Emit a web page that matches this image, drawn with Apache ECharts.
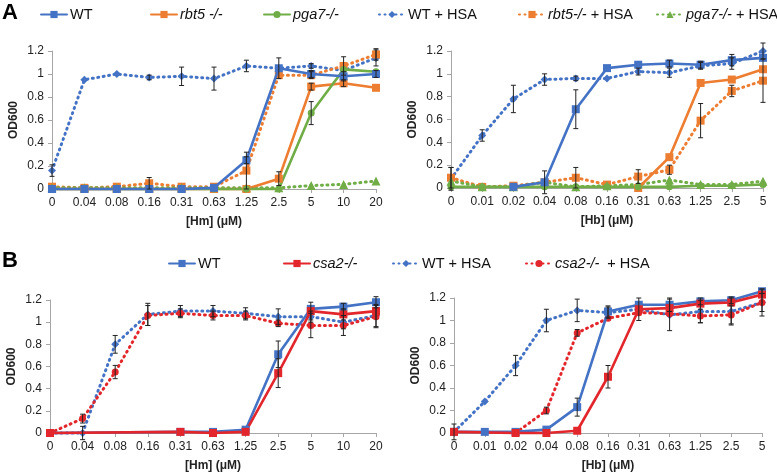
<!DOCTYPE html>
<html>
<head>
<meta charset="utf-8">
<script src="https://cdn.jsdelivr.net/npm/echarts@6/dist/echarts.min.js"></script>
<style>
  html, body { margin: 0; padding: 0; background: #fff; }
  #chart { width: 777px; height: 473px; }
</style>
</head>
<body>
<div id="chart"></div>
<script>
// concentrations on the x axes
const hmDoses = ['0', '0.04', '0.08', '0.16', '0.31', '0.63', '1.25', '2.5', '5', '10', '20'];
const hbDoses = ['0', '0.01', '0.02', '0.04', '0.08', '0.16', '0.31', '0.63', '1.25', '2.5', '5'];

// panel A, hemin
const aHmWT       = [0, 0, 0, 0, 0, 0.01, 0.25, 1.05, 1.00, 0.98, 1.00];
const aHmRbt5     = [0, 0, 0, 0, 0, 0, 0, 0.09, 0.89, 0.92, 0.88];
const aHmPga7     = [0, 0, 0, 0, 0, 0, 0, 0, 0.66, 1.04, 1.02];
const aHmWTHsa    = [0.16, 0.95, 1.00, 0.97, 0.98, 0.96, 1.07, 1.05, 1.07, 1.03, 1.14];
const aHmRbt5Hsa  = [0.02, 0.01, 0.02, 0.05, 0.02, 0.02, 0.16, 0.99, 0.99, 1.07, 1.17];
const aHmPga7Hsa  = [0.01, 0.01, 0.01, 0.01, 0.01, 0.01, 0.01, 0.01, 0.03, 0.04, 0.07];
const aHmWTErr      = [0, 0, 0, 0, 0, 0, 0.03, 0.09, 0.03, 0.04, 0.03];
const aHmRbt5Err    = [0, 0, 0, 0, 0, 0, 0, 0.06, 0.03, 0.03, 0];
const aHmPga7Err    = [0, 0, 0, 0, 0, 0, 0, 0, 0.1, 0, 0];
const aHmWTHsaErr   = [0.05, 0, 0, 0.02, 0.08, 0.1, 0.05, 0, 0.02, 0, 0.07];
const aHmRbt5HsaErr = [0, 0, 0, 0.05, 0, 0, 0.16, 0, 0.03, 0.08, 0.05];

// panel A, hemoglobin
const aHbWT       = [null, null, 0.01, 0.05, 0.69, 1.05, 1.08, 1.09, 1.08, 1.12, 1.14];
const aHbRbt5     = [null, null, null, null, null, null, 0, 0.27, 0.92, 0.95, 1.04];
const aHbPga7     = [0.01, 0.01, 0.01, 0.01, 0.01, 0.01, 0.01, 0.01, 0.02, 0.02, 0.03];
const aHbWTHsa    = [0.08, 0.46, 0.78, 0.95, 0.96, 0.96, 1.02, 1.01, 1.07, 1.09, 1.20];
const aHbRbt5Hsa  = [0.09, 0.01, 0.02, 0.05, 0.09, 0.03, 0.10, 0.16, 0.59, 0.85, 0.94];
const aHbPga7Hsa  = [0.06, 0.01, 0.01, 0.05, 0.01, 0.02, 0.03, 0.07, 0.03, 0.03, 0.06];
const aHbWTErr      = [0, 0, 0, 0.1, 0.17, 0, 0, 0.03, 0.03, 0.05, 0];
const aHbWTHsaErr   = [0.1, 0.05, 0.12, 0.05, 0.02, 0, 0.03, 0.04, 0.03, 0.05, 0.07];
const aHbRbt5HsaErr = [0.09, 0, 0, 0, 0.09, 0, 0.06, 0.04, 0.15, 0.05, 0.19];

// panel B, hemin
const bHmWT       = [0, null, null, null, 0.01, 0.01, 0.03, 0.71, 1.12, 1.14, 1.18];
const bHmCsa2     = [0, null, null, null, 0.01, 0, 0.01, 0.54, 1.10, 1.07, 1.10];
const bHmWTHsa    = [0, 0, 0.80, 1.07, 1.10, 1.10, 1.08, 1.05, 1.05, 1.00, 1.06];
const bHmCsa2Hsa  = [0, 0.13, 0.55, 1.06, 1.08, 1.06, 1.06, 0.99, 0.97, 0.97, 1.05];
const bHmWTErr      = [0, 0, 0, 0, 0, 0, 0, 0.12, 0, 0.03, 0.05];
const bHmCsa2Err    = [0, 0, 0, 0, 0, 0, 0, 0.13, 0.08, 0.05, 0];
const bHmWTHsaErr   = [0, 0.06, 0.08, 0.1, 0.05, 0.05, 0.05, 0.07, 0.05, 0.06, 0.1];
const bHmCsa2HsaErr = [0, 0.04, 0.06, 0.09, 0.04, 0.04, 0.04, 0.03, 0.11, 0.09, 0.1];

// panel B, hemoglobin
const bHbWT       = [0.01, 0.01, 0.01, 0.03, 0.23, 1.08, 1.14, 1.14, 1.17, 1.18, 1.26];
const bHbCsa2     = [0.01, null, 0, 0, 0.02, 0.50, 1.10, 1.11, 1.15, 1.16, 1.23];
const bHbWTHsa    = [0.01, 0.28, 0.60, 1.00, 1.09, 1.07, 1.10, 1.05, 1.08, 1.08, 1.16];
const bHbCsa2Hsa  = [null, null, 0, 0.20, 0.89, 1.02, 1.07, 1.06, 1.04, 1.05, 1.16];
const bHbWTErr      = [0, 0, 0, 0, 0.08, 0.05, 0, 0.06, 0.03, 0.03, 0.02];
const bHbCsa2Err    = [0, 0, 0, 0, 0, 0.1, 0.1, 0, 0, 0, 0];
const bHbWTHsaErr   = [0.07, 0, 0.09, 0.1, 0.1, 0.05, 0, 0.14, 0.1, 0.12, 0.12];
const bHbCsa2HsaErr = [0, 0, 0, 0.03, 0.03, 0, 0, 0, 0.06, 0.08, 0.08];

const BLUE = '#4472C4', ORANGE = '#ED7D31', GREEN = '#70AD47', RED = '#E3262B';
const FONT = '"Liberation Sans", Arial, sans-serif';

const styles = {
  'WT':             { color: BLUE,   dotted: false, symbol: 'rect',     size: 8 },
  'rbt5 -/-':       { color: ORANGE, dotted: false, symbol: 'rect',     size: 8 },
  'pga7-/-':        { color: GREEN,  dotted: false, symbol: 'circle',   size: 7 },
  'WT + HSA':       { color: BLUE,   dotted: true,  symbol: 'diamond',  size: 8 },
  'rbt5-/- + HSA':  { color: ORANGE, dotted: true,  symbol: 'rect',     size: 8 },
  'pga7-/- + HSA':  { color: GREEN,  dotted: true,  symbol: 'triangle', size: 9 },
  'csa2-/-':        { color: RED,    dotted: false, symbol: 'rect',     size: 8 },
  'csa2-/-  + HSA': { color: RED,    dotted: true,  symbol: 'circle',   size: 7 }
};

function line(name, data, gi) {
  const s = styles[name];
  return {
    name: name, type: 'line', xAxisIndex: gi, yAxisIndex: gi,
    data: data, connectNulls: true, clip: false,
    symbol: s.symbol, symbolSize: s.size, showSymbol: true,
    itemStyle: { color: s.color },
    lineStyle: { color: s.color, width: s.dotted ? 3 : 2.6, type: s.dotted ? [1, 4.5] : 'solid', cap: 'round' },
    z: s.dotted ? 3 : 4, animation: false
  };
}

function errBars(data, err, gi) {
  const pts = [];
  data.forEach(function (v, i) {
    if (v != null && err[i] > 0) pts.push([i, v - err[i], v + err[i]]);
  });
  return {
    type: 'custom', xAxisIndex: gi, yAxisIndex: gi, z: 6, silent: true, animation: false, clip: false,
    data: pts,
    renderItem: function (params, api) {
      const lo = api.coord([api.value(0), api.value(1)]);
      const hi = api.coord([api.value(0), api.value(2)]);
      const st = { stroke: '#222', lineWidth: 1 };
      return {
        type: 'group', children: [
          { type: 'line', shape: { x1: lo[0], y1: lo[1], x2: hi[0], y2: hi[1] }, style: st },
          { type: 'line', shape: { x1: hi[0] - 2.5, y1: hi[1], x2: hi[0] + 2.5, y2: hi[1] }, style: st },
          { type: 'line', shape: { x1: lo[0] - 2.5, y1: lo[1], x2: lo[0] + 2.5, y2: lo[1] }, style: st }
        ]
      };
    }
  };
}

const grids = [
  { left: 52, top: 51, width: 324, height: 138 },
  { left: 451, top: 51, width: 312, height: 137 },
  { left: 50, top: 300, width: 326, height: 138 },
  { left: 454, top: 298, width: 308, height: 136 }
];
const xNames = ['[Hm] (μM)', '[Hb] (μM)', '[Hm] (μM)', '[Hb] (μM)'];
const xCats = [hmDoses, hbDoses, hmDoses, hbDoses];

const xAxes = grids.map(function (g, i) {
  return {
    type: 'category', gridIndex: i, data: xCats[i], boundaryGap: false,
    name: xNames[i], nameLocation: 'middle', nameGap: 27,
    nameTextStyle: { fontFamily: FONT, fontSize: 12, fontWeight: 'bold', color: '#222' },
    axisLine: { lineStyle: { color: '#a6a6a6', width: 1 } },
    axisTick: { alignWithLabel: true, length: 4, lineStyle: { color: '#a6a6a6' } },
    axisLabel: { interval: 0, fontFamily: FONT, fontSize: 12, color: '#222', margin: 8 },
    splitLine: { show: false }
  };
});
const yAxes = grids.map(function (g, i) {
  return {
    type: 'value', gridIndex: i, min: 0, max: 1.2, interval: 0.2,
    name: 'OD600', nameLocation: 'middle', nameGap: 32,
    nameTextStyle: { fontFamily: FONT, fontSize: 12, fontWeight: 'bold', color: '#222' },
    axisLine: { show: true, lineStyle: { color: '#a6a6a6', width: 1 } },
    axisTick: { show: true, length: 4, lineStyle: { color: '#a6a6a6' } },
    axisLabel: { fontFamily: FONT, fontSize: 12, color: '#222', margin: 8 },
    splitLine: { show: false }
  };
});

const series = [
  line('WT + HSA', aHmWTHsa, 0), line('rbt5-/- + HSA', aHmRbt5Hsa, 0), line('pga7-/- + HSA', aHmPga7Hsa, 0),
  line('rbt5 -/-', aHmRbt5, 0), line('pga7-/-', aHmPga7, 0), line('WT', aHmWT, 0),
  errBars(aHmWT, aHmWTErr, 0), errBars(aHmRbt5, aHmRbt5Err, 0), errBars(aHmPga7, aHmPga7Err, 0),
  errBars(aHmWTHsa, aHmWTHsaErr, 0), errBars(aHmRbt5Hsa, aHmRbt5HsaErr, 0),

  line('WT + HSA', aHbWTHsa, 1), line('rbt5-/- + HSA', aHbRbt5Hsa, 1), line('pga7-/- + HSA', aHbPga7Hsa, 1),
  line('rbt5 -/-', aHbRbt5, 1), line('pga7-/-', aHbPga7, 1), line('WT', aHbWT, 1),
  errBars(aHbWT, aHbWTErr, 1), errBars(aHbWTHsa, aHbWTHsaErr, 1), errBars(aHbRbt5Hsa, aHbRbt5HsaErr, 1),

  line('WT + HSA', bHmWTHsa, 2), line('csa2-/-  + HSA', bHmCsa2Hsa, 2), line('WT', bHmWT, 2), line('csa2-/-', bHmCsa2, 2),
  errBars(bHmWT, bHmWTErr, 2), errBars(bHmCsa2, bHmCsa2Err, 2),
  errBars(bHmWTHsa, bHmWTHsaErr, 2), errBars(bHmCsa2Hsa, bHmCsa2HsaErr, 2),

  line('WT + HSA', bHbWTHsa, 3), line('csa2-/-  + HSA', bHbCsa2Hsa, 3), line('WT', bHbWT, 3), line('csa2-/-', bHbCsa2, 3),
  errBars(bHbWT, bHbWTErr, 3), errBars(bHbCsa2, bHbCsa2Err, 3),
  errBars(bHbWTHsa, bHbWTHsaErr, 3), errBars(bHbCsa2Hsa, bHbCsa2HsaErr, 3)
];

const legendLabels = {
  'WT': 'WT',
  'rbt5 -/-': '{i|rbt5 -/-}',
  'pga7-/-': '{i|pga7-/-}',
  'WT + HSA': 'WT + HSA',
  'rbt5-/- + HSA': '{i|rbt5-/-} + HSA',
  'pga7-/- + HSA': '{i|pga7-/-} + HSA',
  'csa2-/-': '{i|csa2-/-}',
  'csa2-/-  + HSA': '{i|csa2-/-}  + HSA'
};
function legend(name, left, top) {
  return {
    data: [name], left: left, top: top, itemWidth: 26, itemHeight: 9, itemGap: 0, padding: 0,
    selectedMode: false,
    formatter: function (n) { return legendLabels[n]; },
    textStyle: {
      fontFamily: FONT, fontSize: 14.5, color: '#111', padding: [0, 0, 0, -2],
      rich: { i: { fontFamily: FONT, fontSize: 14.5, fontStyle: 'italic', color: '#111' } }
    }
  };
}

const chart = echarts.init(document.getElementById('chart'), null, { renderer: 'canvas' });
chart.setOption({
  animation: false,
  backgroundColor: '#fff',
  title: [
    { text: 'A', left: 2, top: 2, padding: 0, textStyle: { fontFamily: FONT, fontSize: 22, fontWeight: 'bold', color: '#000' } },
    { text: 'B', left: 2, top: 250, padding: 0, textStyle: { fontFamily: FONT, fontSize: 22, fontWeight: 'bold', color: '#000' } }
  ],
  legend: [
    legend('WT', 40, 7), legend('rbt5 -/-', 150, 7), legend('pga7-/-', 263, 7),
    legend('WT + HSA', 378, 7), legend('rbt5-/- + HSA', 518, 7), legend('pga7-/- + HSA', 656, 7),
    legend('WT', 168, 256), legend('csa2-/-', 283, 256),
    legend('WT + HSA', 392, 256), legend('csa2-/-  + HSA', 525, 256)
  ],
  grid: grids,
  xAxis: xAxes,
  yAxis: yAxes,
  series: series
});
</script>
</body>
</html>
